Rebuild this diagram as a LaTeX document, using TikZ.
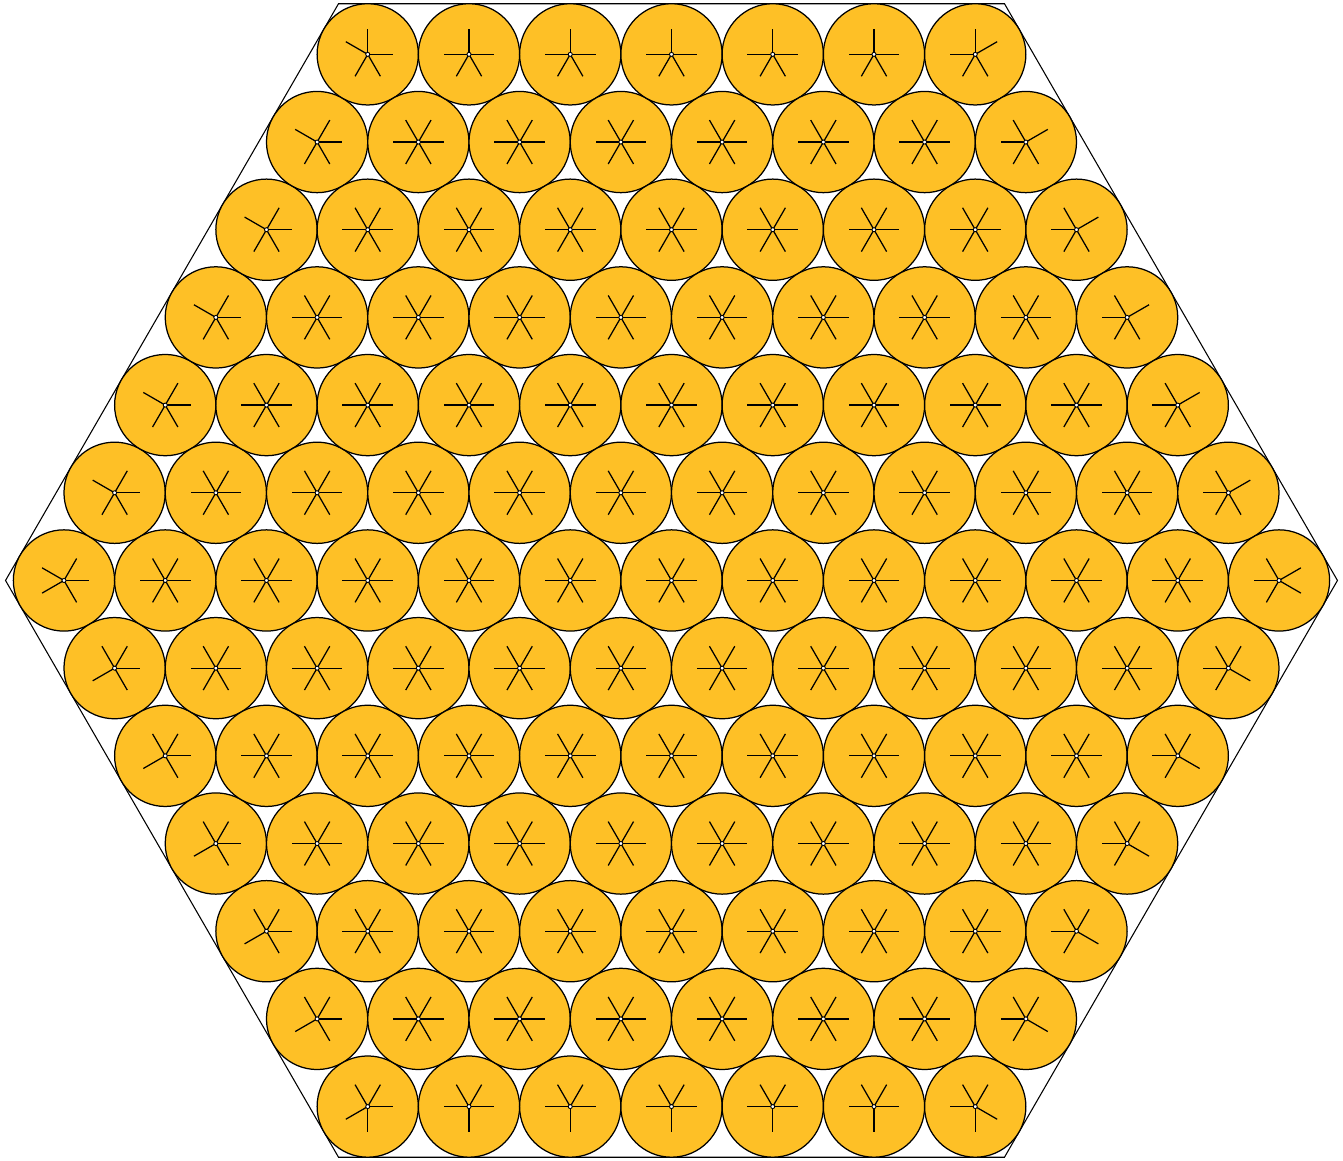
\documentclass[tikz,border=0pt]{standalone}
\usetikzlibrary{calc}
\definecolor{ballfill}{RGB}{254,192,38}
\tikzset{
  ball/.style={circle, draw=black, fill=ballfill, line width=0.35pt, minimum size=1cm, inner sep=0pt, outer sep=0pt},
  spoke/.style={draw=black, line width=0.35pt},
  hub/.style={circle, draw=black, fill=white, line width=0.25pt, minimum size=0.04cm, inner sep=0pt},
  frame/.style={draw=black, line width=0.3pt, line join=miter}
}
\begin{document}
\begin{tikzpicture}
\useasboundingbox (-6.632,-5.733) rectangle (6.632,5.733);
% outer hexagon
\coordinate (h0) at (0:6.5774);
\coordinate (h1) at (60:6.5774);
\coordinate (h2) at (120:6.5774);
\coordinate (h3) at (180:6.5774);
\coordinate (h4) at (240:6.5774);
\coordinate (h5) at (300:6.5774);
\draw[frame] (h0) -- (h1) -- (h2) -- (h3) -- (h4) -- (h5) -- cycle;
% balls
\foreach \aq in {-6,...,6} {
  \foreach \ar in {-6,...,6} {
    \pgfmathtruncatemacro\as{abs(\aq+\ar)}
    \ifnum\as<7
      \node[ball] (b\aq_\ar) at ({\aq+\ar/2},{\ar*sqrt(3)/2}) {};
    \fi
  }
}
% spokes
\foreach \aq in {-6,...,6} {
  \foreach \ar in {-6,...,6} {
    \pgfmathtruncatemacro\as{abs(\aq+\ar)}
    \ifnum\as<7
      \foreach \k/\dq/\dr/\nq/\nr in {0/1/0/0/1, 1/0/1/-1/1, 2/-1/1/-1/0, 3/-1/0/0/-1, 4/0/-1/1/-1, 5/1/-1/1/0} {
        \pgfmathtruncatemacro\ea{max(abs(\aq+\dq),abs(\ar+\dr),abs(\aq+\dq+\ar+\dr))}
        \pgfmathtruncatemacro\eb{max(abs(\aq+\nq),abs(\ar+\nr),abs(\aq+\nq+\ar+\nr))}
        \ifnum\ea<7
          \draw[spoke] (b\aq_\ar.center) -- ++(60*\k:0.25);
        \else
          \ifnum\eb>6
            \draw[spoke] (b\aq_\ar.center) -- ++(60*\k+30:0.25);
          \fi
        \fi
      }
      \node[hub] (d\aq_\ar) at (b\aq_\ar.center) {};
    \fi
  }
}
\end{tikzpicture}
\end{document}
